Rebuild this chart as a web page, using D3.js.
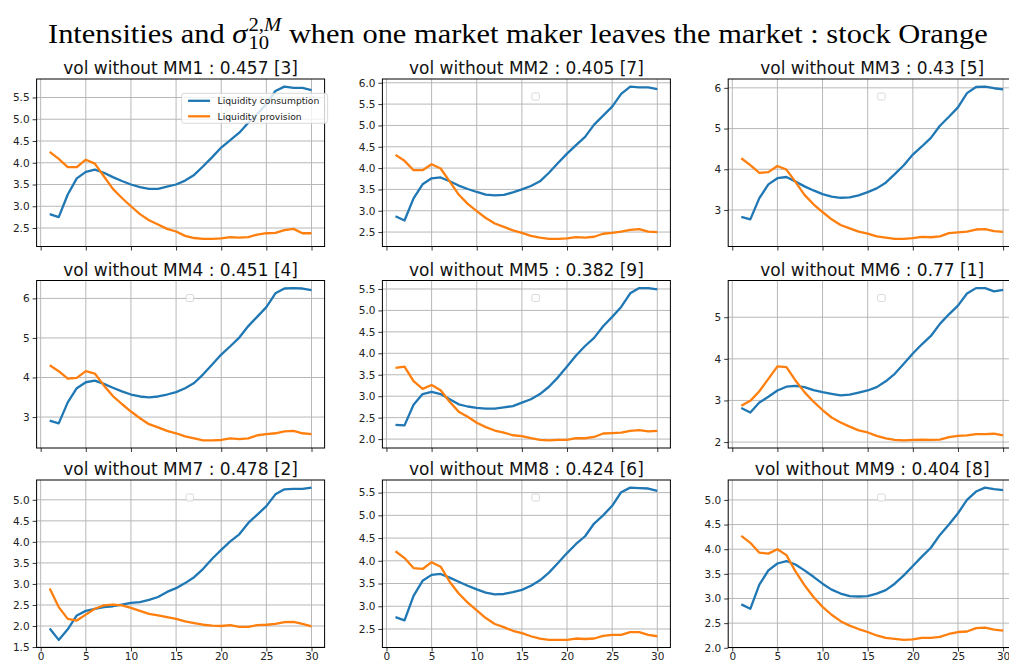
<!DOCTYPE html>
<html><head><meta charset="utf-8">
<script src="https://cdn.jsdelivr.net/npm/d3@7"></script>
<style>body{margin:0;background:#fff} svg{display:block} .pre{white-space:pre}</style>
</head><body>
<svg id="c" width="1009" height="661"></svg>
<script>
// ---------------- data ----------------
const steps = d3.range(1, 31);
const mmNames = ["MM1","MM2","MM3","MM4","MM5","MM6","MM7","MM8","MM9"];
const vols = [0.457, 0.405, 0.43, 0.451, 0.382, 0.77, 0.478, 0.424, 0.404];
const ranks = [3, 7, 5, 4, 9, 1, 2, 6, 8];
const xTicks = [0, 5, 10, 15, 20, 25, 30];
const seriesNames = ["Liquidity consumption", "Liquidity provision"];

const cons1 = [2.82,2.75,3.27,3.64,3.79,3.84,3.77,3.67,3.58,3.50,3.44,3.40,3.40,3.45,3.50,3.59,3.72,3.92,4.13,4.35,4.52,4.69,4.92,5.12,5.35,5.65,5.75,5.72,5.72,5.67];
const prov1 = [4.25,4.09,3.90,3.90,4.07,3.98,3.69,3.40,3.19,3.00,2.82,2.68,2.58,2.48,2.42,2.32,2.27,2.25,2.25,2.26,2.29,2.28,2.29,2.35,2.38,2.39,2.45,2.48,2.38,2.38];
const cons2 = [2.87,2.77,3.29,3.62,3.76,3.78,3.69,3.59,3.51,3.44,3.38,3.36,3.37,3.43,3.50,3.58,3.69,3.89,4.12,4.34,4.54,4.73,5.02,5.23,5.44,5.74,5.91,5.89,5.89,5.85];
const prov2 = [4.31,4.17,3.95,3.95,4.09,3.99,3.69,3.38,3.16,2.99,2.83,2.70,2.62,2.54,2.48,2.41,2.37,2.34,2.34,2.35,2.38,2.37,2.39,2.46,2.48,2.51,2.55,2.57,2.51,2.50];
const cons3 = [2.83,2.77,3.29,3.63,3.78,3.81,3.70,3.58,3.48,3.39,3.33,3.30,3.31,3.36,3.44,3.53,3.67,3.88,4.10,4.36,4.56,4.77,5.07,5.29,5.52,5.87,6.02,6.03,5.99,5.96];
const prov3 = [4.27,4.10,3.91,3.93,4.08,3.99,3.69,3.37,3.14,2.95,2.77,2.63,2.55,2.47,2.42,2.35,2.32,2.29,2.29,2.31,2.34,2.33,2.35,2.43,2.45,2.47,2.52,2.53,2.48,2.46];
const cons4 = [2.91,2.84,3.37,3.73,3.88,3.92,3.84,3.74,3.65,3.57,3.52,3.50,3.52,3.57,3.63,3.73,3.86,4.08,4.33,4.58,4.79,5.01,5.30,5.54,5.78,6.13,6.25,6.26,6.25,6.21];
const prov4 = [4.31,4.16,3.97,3.99,4.16,4.10,3.80,3.53,3.33,3.14,2.97,2.82,2.74,2.65,2.59,2.51,2.46,2.41,2.41,2.42,2.46,2.44,2.46,2.54,2.57,2.59,2.64,2.65,2.59,2.57];
const cons5 = [2.33,2.32,2.80,3.05,3.10,3.05,2.93,2.81,2.76,2.73,2.71,2.71,2.74,2.77,2.85,2.93,3.05,3.22,3.44,3.69,3.95,4.17,4.36,4.63,4.85,5.08,5.40,5.52,5.52,5.49];
const prov5 = [3.66,3.69,3.35,3.17,3.26,3.14,2.87,2.64,2.52,2.38,2.28,2.20,2.15,2.09,2.07,2.02,1.98,1.97,1.98,1.98,2.02,2.02,2.05,2.13,2.14,2.15,2.19,2.21,2.18,2.19];
const cons6 = [2.82,2.71,2.95,3.09,3.24,3.33,3.35,3.32,3.25,3.20,3.16,3.12,3.14,3.19,3.24,3.32,3.46,3.64,3.88,4.13,4.35,4.55,4.84,5.07,5.28,5.57,5.70,5.70,5.62,5.66];
const prov6 = [2.87,2.99,3.22,3.52,3.82,3.80,3.48,3.20,2.97,2.77,2.59,2.47,2.37,2.28,2.23,2.15,2.09,2.05,2.04,2.05,2.06,2.05,2.06,2.12,2.15,2.16,2.19,2.19,2.20,2.16];
const cons7 = [1.94,1.67,1.92,2.25,2.36,2.41,2.45,2.47,2.51,2.55,2.57,2.62,2.69,2.81,2.90,3.02,3.16,3.36,3.60,3.81,4.01,4.18,4.45,4.65,4.85,5.13,5.25,5.26,5.26,5.29];
const prov7 = [2.89,2.45,2.17,2.13,2.27,2.41,2.49,2.51,2.49,2.43,2.36,2.29,2.25,2.21,2.17,2.11,2.07,2.03,2.01,2.00,2.02,1.98,1.98,2.02,2.03,2.05,2.09,2.10,2.05,1.99];
const cons8 = [2.76,2.69,3.23,3.56,3.69,3.71,3.63,3.54,3.45,3.37,3.30,3.26,3.27,3.31,3.36,3.45,3.57,3.74,3.95,4.17,4.37,4.54,4.82,5.00,5.21,5.51,5.61,5.60,5.59,5.54];
const prov8 = [4.21,4.06,3.84,3.82,3.97,3.87,3.54,3.28,3.08,2.91,2.74,2.61,2.54,2.46,2.41,2.34,2.29,2.26,2.26,2.26,2.29,2.28,2.29,2.35,2.37,2.37,2.43,2.43,2.37,2.34];
const cons9 = [2.88,2.79,3.28,3.57,3.71,3.76,3.69,3.57,3.44,3.30,3.18,3.10,3.05,3.04,3.05,3.10,3.17,3.30,3.47,3.66,3.85,4.03,4.29,4.50,4.73,5.00,5.17,5.25,5.22,5.20];
const prov9 = [4.27,4.13,3.93,3.91,4.00,3.88,3.55,3.27,3.03,2.83,2.67,2.54,2.45,2.38,2.32,2.25,2.20,2.18,2.16,2.17,2.20,2.20,2.22,2.28,2.32,2.33,2.40,2.41,2.37,2.35];

const yTicks1 = [2.5,3.0,3.5,4.0,4.5,5.0,5.5];
const yTicks2 = [2.5,3.0,3.5,4.0,4.5,5.0,5.5,6.0];
const yTicks3 = [3,4,5,6];
const yTicks4 = [3,4,5,6];
const yTicks5 = [2.0,2.5,3.0,3.5,4.0,4.5,5.0,5.5];
const yTicks6 = [2,3,4,5];
const yTicks7 = [1.5,2.0,2.5,3.0,3.5,4.0,4.5,5.0];
const yTicks8 = [2.5,3.0,3.5,4.0,4.5,5.0,5.5];
const yTicks9 = [2.0,2.5,3.0,3.5,4.0,4.5,5.0];
const yTickSteps = [0.5, 0.5, 1, 1, 0.5, 1, 0.5, 0.5, 0.5];

const consAll = [cons1,cons2,cons3,cons4,cons5,cons6,cons7,cons8,cons9];
const provAll = [prov1,prov2,prov3,prov4,prov5,prov6,prov7,prov8,prov9];
const yTicksAll = [yTicks1,yTicks2,yTicks3,yTicks4,yTicks5,yTicks6,yTicks7,yTicks8,yTicks9];

// ---------------- layout ----------------
const colors = ["#1f77b4", "#ff7f0e"];
const colLeft = [36.6, 382.4, 728.2];
const rowTop = [79, 280.5, 480];
const W = 288, H = 167.5;
const svg = d3.select("#c");

// main title
const tg = svg.append("g");
const serif = "'Liberation Serif', 'DejaVu Serif', serif";
const fs = 27;
function tt(txt, size, yy, xx, italic) {
  const t = tg.append("text").attr("class", "pre").attr("xml:space", "preserve")
    .attr("font-family", serif).attr("font-size", size).attr("y", yy).attr("x", xx).text(txt);
  if (italic) t.attr("font-style", "italic");
  return t;
}
const t1 = tt("Intensities and ", fs, 43, 0, false);
let cx = t1.node().getComputedTextLength();
const sig = tt("σ", fs, 43, cx, true);
cx += sig.node().getComputedTextLength() + 1;
const sup = tt("2,", fs * 0.68, 31, cx, false);
const supM = tt("M", fs * 0.68, 31, cx + sup.node().getComputedTextLength(), true);
const sub = tt("10", fs * 0.68, 49, cx, false);
cx += Math.max(sup.node().getComputedTextLength() + supM.node().getComputedTextLength(), sub.node().getComputedTextLength());
const t3 = tt(" when one market maker leaves the market : stock Orange", fs, 43, cx, false);
cx += t3.node().getComputedTextLength();
const targetW = 940;
tg.attr("transform", `translate(48,0) scale(${targetW / cx},1)`);

// panels
mmNames.forEach((name, i) => {
  const r = Math.floor(i / 3), c = i % 3;
  const g = svg.append("g").attr("transform", `translate(${colLeft[c]},${rowTop[r]})`);
  const cons = consAll[i], prov = provAll[i];
  const x = d3.scaleLinear().domain([1 - 0.05 * 29, 30 + 0.05 * 29]).range([0, W]);
  const ext = d3.extent(cons.concat(prov));
  const m = (ext[1] - ext[0]) * 0.05;
  const y = d3.scaleLinear().domain([ext[0] - m, ext[1] + m]).range([H, 0]);
  const yt = yTicksAll[i];

  // grid
  g.append("g").selectAll("line").data(xTicks).join("line")
    .attr("x1", d => x(d)).attr("x2", d => x(d)).attr("y1", 0).attr("y2", H)
    .attr("stroke", "#b8b8b8").attr("stroke-width", 1);
  g.append("g").selectAll("line").data(yt).join("line")
    .attr("y1", d => y(d)).attr("y2", d => y(d)).attr("x1", 0).attr("x2", W)
    .attr("stroke", "#b8b8b8").attr("stroke-width", 1);

  // lines
  const line = d3.line().x((d, k) => x(steps[k])).y(d => y(d));
  [cons, prov].forEach((s, k) => {
    g.append("path").datum(s).attr("d", line).attr("fill", "none")
      .attr("stroke", colors[k]).attr("stroke-width", 2.3).attr("stroke-linejoin", "round");
  });

  // axes
  const fmt = yTickSteps[i] < 1 ? d3.format(".1f") : d3.format("d");
  const ax = g.append("g").attr("transform", `translate(0,${H})`)
    .call(d3.axisBottom(x).tickValues(xTicks).tickSize(4).tickPadding(r === 2 ? 1.5 : 3)
      .tickFormat(r === 2 ? d3.format("d") : () => ""));
  const ay = g.append("g")
    .call(d3.axisLeft(y).tickValues(yt).tickSize(4).tickPadding(3).tickFormat(fmt));
  [ax, ay].forEach(a => {
    a.select(".domain").remove();
    a.selectAll("text").attr("font-family", "'DejaVu Sans', sans-serif").attr("font-size", 10.5).attr("fill", "#222");
    a.selectAll("line").attr("stroke", "#222").attr("stroke-width", 0.9);
  });

  // spines
  g.append("rect").attr("x", 0).attr("y", 0).attr("width", W).attr("height", H)
    .attr("fill", "none").attr("stroke", "#000").attr("stroke-width", 1);

  // subplot title
  g.append("text").attr("x", W / 2).attr("y", -5).attr("text-anchor", "middle")
    .attr("font-family", "'DejaVu Sans', sans-serif").attr("font-size", 17).attr("fill", "#111")
    .text(`vol without ${name} : ${vols[i]} [${ranks[i]}]`);

  // legend
  if (i === 0) {
    const lg = g.append("g").attr("transform", "translate(145,14.3)");
    lg.append("rect").attr("width", 146).attr("height", 30).attr("rx", 2.5)
      .attr("fill", "#fff").attr("fill-opacity", 0.8).attr("stroke", "#d0d0d0").attr("stroke-width", 0.8);
    seriesNames.forEach((nm, k) => {
      const yy = 7.5 + k * 15.5;
      lg.append("line").attr("x1", 6.5).attr("x2", 28.5).attr("y1", yy).attr("y2", yy)
        .attr("stroke", colors[k]).attr("stroke-width", 2.3);
      lg.append("text").attr("x", 36).attr("y", yy).attr("dy", "0.35em")
        .attr("font-family", "'DejaVu Sans', sans-serif").attr("font-size", 9.2).attr("fill", "#222").text(nm);
    });
  } else {
    g.append("rect").attr("x", 149.5).attr("y", 14).attr("width", 7.5).attr("height", 7)
      .attr("rx", 1.5).attr("fill", "#fff").attr("fill-opacity", 0.8)
      .attr("stroke", "#d0d0d0").attr("stroke-width", 0.8);
  }
});
</script>
</body></html>
